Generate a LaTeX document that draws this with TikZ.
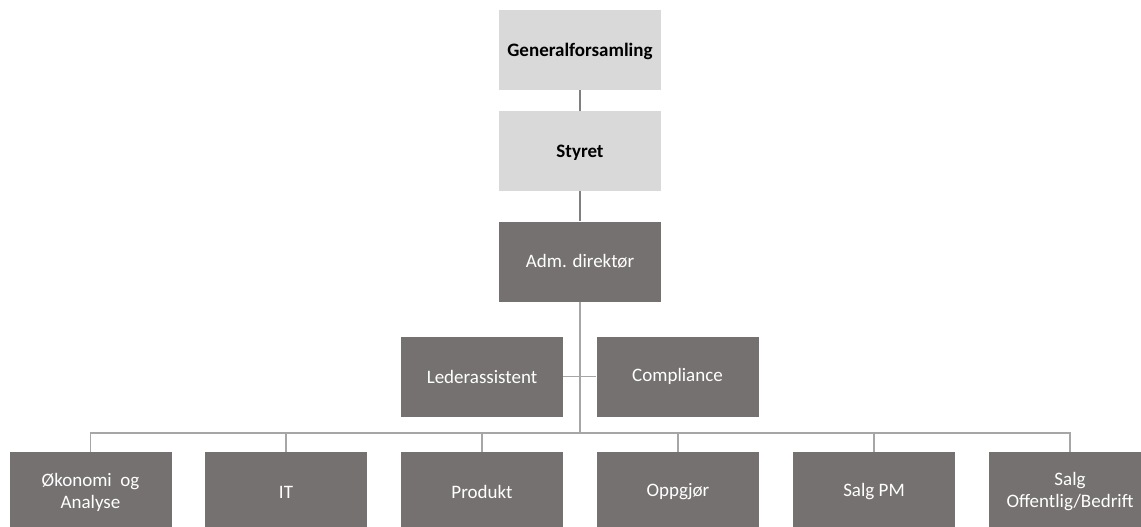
\documentclass[tikz,border=0pt]{standalone}
\usepackage{fontspec}
\setmainfont{Carlito}
\usepackage{tikz}
\definecolor{boxlight}{HTML}{D9D9D9}
\definecolor{boxdark}{HTML}{767171}
\definecolor{linetop}{HTML}{7F7F7F}
\definecolor{linelow}{HTML}{A6A6A6}
\tikzset{
	unitbox/.style={minimum width=162pt, minimum height=80pt, inner sep=2pt, align=center, font=\fontsize{19}{22}\selectfont},
	boardbox/.style={unitbox, fill=boxlight, text=black, text depth=0pt, font=\fontsize{19}{22}\selectfont\bfseries},
	deptbox/.style={unitbox, fill=boxdark, text=white},
	toplink/.style={draw=linetop, line width=2pt},
	lowlink/.style={draw=linelow, line width=1.5pt}
}

\begin{document}
\begin{tikzpicture}[x=1pt, y=-1pt]
	
	% Page frame
	\useasboundingbox (0,0) rectangle (1141,527);
	
	% Governing bodies
	\node[boardbox] (gen) at (580,50) {Generalforsamling};
	\node[boardbox] (sty) at (580,151) {Styret};
	
	% Management
	\node[deptbox] (adm) at (580,261.5) {Adm. direktør};
	\node[deptbox] (led) at (482,376.5) {Lederassistent};
	\node[deptbox] (com) at (677.5,376.5) {Compliance};
	
	% Departments
	\node[deptbox] (oko) at (90.5,492) {Økonomi~~og\\Analyse};
	\node[deptbox] (it)  at (286,492) {IT};
	\node[deptbox] (pro) at (482,492) {Produkt};
	\node[deptbox] (opp) at (678,492) {Oppgjør};
	\node[deptbox] (spm) at (874,492) {Salg PM};
	\node[deptbox] (sob) at (1070,492) {Salg\\Offentlig/Bedrift};
	
	% Bus line above the departments
	\coordinate (bus) at (580,433);
	\coordinate (staff) at (580,376.5);
	
	% Connectors
	\draw[toplink] (gen) -- (sty);
	\draw[toplink] (sty) -- (adm);
	\draw[lowlink] (adm) -- (bus);
	\draw[lowlink] (led.east) -- (staff) -- (com.west);
	\draw[lowlink] (oko.north) |- (bus) -| (sob.north);
	\foreach \d in {it, pro, opp, spm}
	\draw[lowlink] (\d.north) -- (\d.north |- bus);
	
\end{tikzpicture}
\end{document}
